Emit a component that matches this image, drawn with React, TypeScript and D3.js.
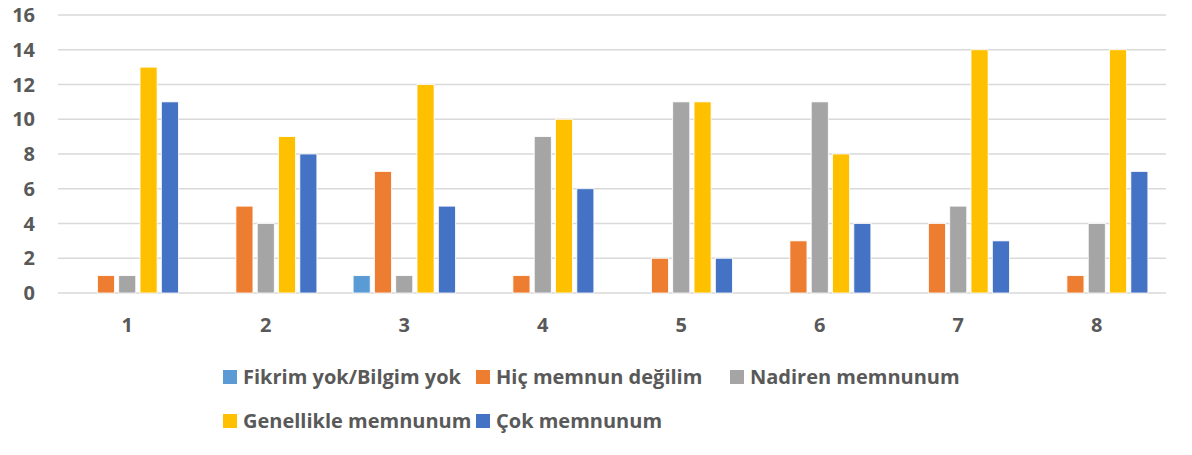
import React from "react";
import * as d3 from "d3";

const categories = ["1", "2", "3", "4", "5", "6", "7", "8"];
const seriesNames = [
  "Fikrim yok/Bilgim yok",
  "Hiç memnun değilim",
  "Nadiren memnunum",
  "Genellikle memnunum",
  "Çok memnunum",
];
const colors = ["#5B9BD5", "#ED7D31", "#A5A5A5", "#FFC000", "#4472C4"];

const fikrim = [0, 0, 1, 0, 0, 0, 0, 0];
const hic = [1, 5, 7, 1, 2, 3, 4, 1];
const nadiren = [1, 4, 1, 9, 11, 11, 5, 4];
const genel = [13, 9, 12, 10, 11, 8, 14, 14];
const cok = [11, 8, 5, 6, 2, 4, 3, 7];
const seriesValues = [fikrim, hic, nadiren, genel, cok];

const yTicks = [0, 2, 4, 6, 8, 10, 12, 14, 16];

const width = 1192;
const height = 455;
const left = 58;
const right = 1166;
const top = 15;
const bottom = 293;
const font = "'Open Sans', sans-serif";
const fontSize = 20;
const textColor = "#595959";

// legend layout: two rows, three columns
const legendCols = [223, 476, 730];
const legendRows = [377, 421];

export default function App() {
  const x0 = d3.scaleBand<string>().domain(categories).range([left, right]);
  const x1 = d3
    .scaleBand<number>()
    .domain(d3.range(seriesNames.length))
    .range([0, x0.bandwidth()])
    .paddingInner(0.2)
    .paddingOuter(0.85);
  const y = d3.scaleLinear().domain([0, 16]).range([bottom, top]);

  return (
    <svg
      width={width}
      height={height}
      style={{ position: "absolute", left: 0, top: 0, background: "#fff" }}
    >
      {yTicks.map((t) => (
        <g key={t}>
          <line x1={left} x2={right} y1={y(t)} y2={y(t)} stroke="#D9D9D9" strokeWidth={1.3} />
          <text
            x={35}
            y={y(t)}
            dy="0.36em"
            textAnchor="end"
            fontFamily={font}
            fontWeight="bold"
            fontSize={fontSize}
            fill={textColor}
          >
            {t}
          </text>
        </g>
      ))}
      {categories.map((c, ci) => (
        <g key={c} transform={`translate(${x0(c)},0)`}>
          {seriesValues.map((vals, si) =>
            vals[ci] > 0 ? (
              <rect
                key={si}
                x={x1(si)}
                y={y(vals[ci])}
                width={x1.bandwidth()}
                height={y(0) - y(vals[ci])}
                fill={colors[si]}
                stroke="#fff"
                strokeWidth={0.8}
              />
            ) : null
          )}
          <text
            x={x0.bandwidth() / 2}
            y={332}
            textAnchor="middle"
            fontFamily={font}
            fontWeight="bold"
            fontSize={fontSize}
            fill={textColor}
          >
            {c}
          </text>
        </g>
      ))}
      {seriesNames.map((name, i) => {
        const lx = legendCols[i % 3];
        const ly = legendRows[Math.floor(i / 3)];
        return (
          <g key={name}>
            <rect x={lx} y={ly - 7} width={14} height={14} fill={colors[i]} />
            <text
              x={lx + 20}
              y={ly}
              dy="0.36em"
              fontFamily={font}
              fontWeight="bold"
              fontSize={fontSize}
              fill={textColor}
            >
              {name}
            </text>
          </g>
        );
      })}
    </svg>
  );
}
